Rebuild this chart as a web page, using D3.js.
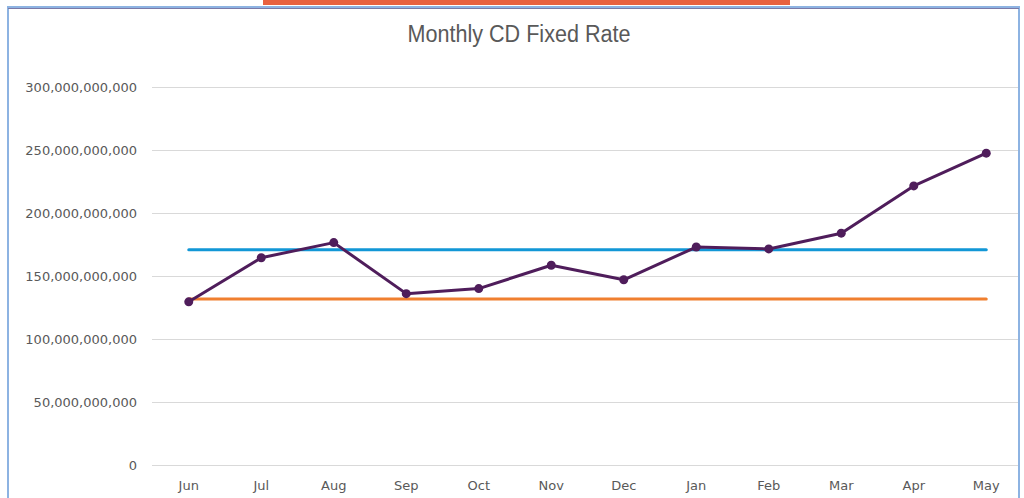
<!DOCTYPE html>
<html>
<head>
<meta charset="utf-8">
<script src="https://cdn.jsdelivr.net/npm/d3@7"></script>
<style>
  body { margin: 0; background: #fff; }
  svg { display: block; }
</style>
</head>
<body>
<div id="chart"></div>
<script>
var months = ["Jun", "Jul", "Aug", "Sep", "Oct", "Nov", "Dec", "Jan", "Feb", "Mar", "Apr", "May"];
var values = [129.5e9, 164.5e9, 176.5e9, 136e9, 140e9, 158.5e9, 147e9, 173e9, 171.5e9, 184e9, 221.5e9, 247.5e9];
var upperLine = 170.8e9;
var lowerLine = 131.8e9;
var yTicks = [0, 50e9, 100e9, 150e9, 200e9, 250e9, 300e9];

function init(){
    var w = 1024;
    var h = 498;

    var svg = d3.select("#chart")
                .append("svg")
                .attr("width", w)
                .attr("height", h);

    // red strip at the very top
    svg.append("rect")
       .attr("x", 263).attr("y", 0)
       .attr("width", 527).attr("height", 5)
       .attr("fill", "#e8613f");

    // outer frame
    svg.append("rect")
       .attr("x", 8).attr("y", 7)
       .attr("width", 1011).attr("height", 500)
       .attr("fill", "none")
       .attr("stroke", "#8db3e2")
       .attr("stroke-width", 2);
    svg.append("line")
       .attr("x1", 8).attr("x2", 1019)
       .attr("y1", 8.5).attr("y2", 8.5)
       .attr("stroke", "#7a7aa8")
       .attr("stroke-width", 1);

    var x = d3.scaleBand()
              .domain(months)
              .range([152.5, 1022.5]);

    var y = d3.scaleLinear()
              .domain([0, 300e9])
              .range([465, 87]);

    var fmt = d3.format(",");

    // gridlines
    svg.selectAll("line.grid")
       .data(yTicks)
       .enter()
       .append("line")
       .attr("class", "grid")
       .attr("x1", 152).attr("x2", 1018)
       .attr("y1", function(d){ return Math.round(y(d)) + 0.5; })
       .attr("y2", function(d){ return Math.round(y(d)) + 0.5; })
       .attr("stroke", "#d9d9d9")
       .attr("stroke-width", 1);

    // y labels
    svg.selectAll("text.ylab")
       .data(yTicks)
       .enter()
       .append("text")
       .attr("class", "ylab")
       .attr("x", 137)
       .attr("y", function(d){ return y(d) + 4.5; })
       .attr("text-anchor", "end")
       .attr("font-family", "'DejaVu Sans', sans-serif")
       .attr("font-size", 13)
       .attr("fill", "#595959")
       .text(function(d){ return fmt(d); });

    // x labels
    svg.selectAll("text.xlab")
       .data(months)
       .enter()
       .append("text")
       .attr("class", "xlab")
       .attr("x", function(d){ return x(d) + x.bandwidth()/2; })
       .attr("y", 490)
       .attr("text-anchor", "middle")
       .attr("font-family", "'DejaVu Sans', sans-serif")
       .attr("font-size", 13)
       .attr("fill", "#595959")
       .text(function(d){ return d; });

    var cx = function(d){ return x(d) + x.bandwidth()/2; };

    // reference lines
    [[upperLine, "#1297d6"], [lowerLine, "#f07f2f"]].forEach(function(r){
        svg.append("line")
           .attr("x1", cx(months[0])).attr("x2", cx(months[months.length-1]))
           .attr("y1", y(r[0])).attr("y2", y(r[0]))
           .attr("stroke", r[1])
           .attr("stroke-width", 3)
           .attr("stroke-linecap", "round");
    });

    // data line
    var line = d3.line()
                 .x(function(d, i){ return cx(months[i]); })
                 .y(function(d){ return y(d); });

    svg.append("path")
       .datum(values)
       .attr("d", line)
       .attr("fill", "none")
       .attr("stroke", "#4f1d5b")
       .attr("stroke-width", 3)
       .attr("stroke-linejoin", "round");

    svg.selectAll("circle.pt")
       .data(values)
       .enter()
       .append("circle")
       .attr("class", "pt")
       .attr("cx", function(d, i){ return cx(months[i]); })
       .attr("cy", function(d){ return y(d); })
       .attr("r", 4.5)
       .attr("fill", "#4f1d5b");

    // title
    svg.append("text")
       .attr("x", 519)
       .attr("y", 42)
       .attr("text-anchor", "middle")
       .attr("font-family", "'Liberation Sans', sans-serif")
       .attr("font-size", 23)
       .attr("textLength", 223)
       .attr("lengthAdjust", "spacingAndGlyphs")
       .attr("fill", "#595959")
       .text("Monthly CD Fixed Rate");
}
window.onload = init;
</script>
</body>
</html>
